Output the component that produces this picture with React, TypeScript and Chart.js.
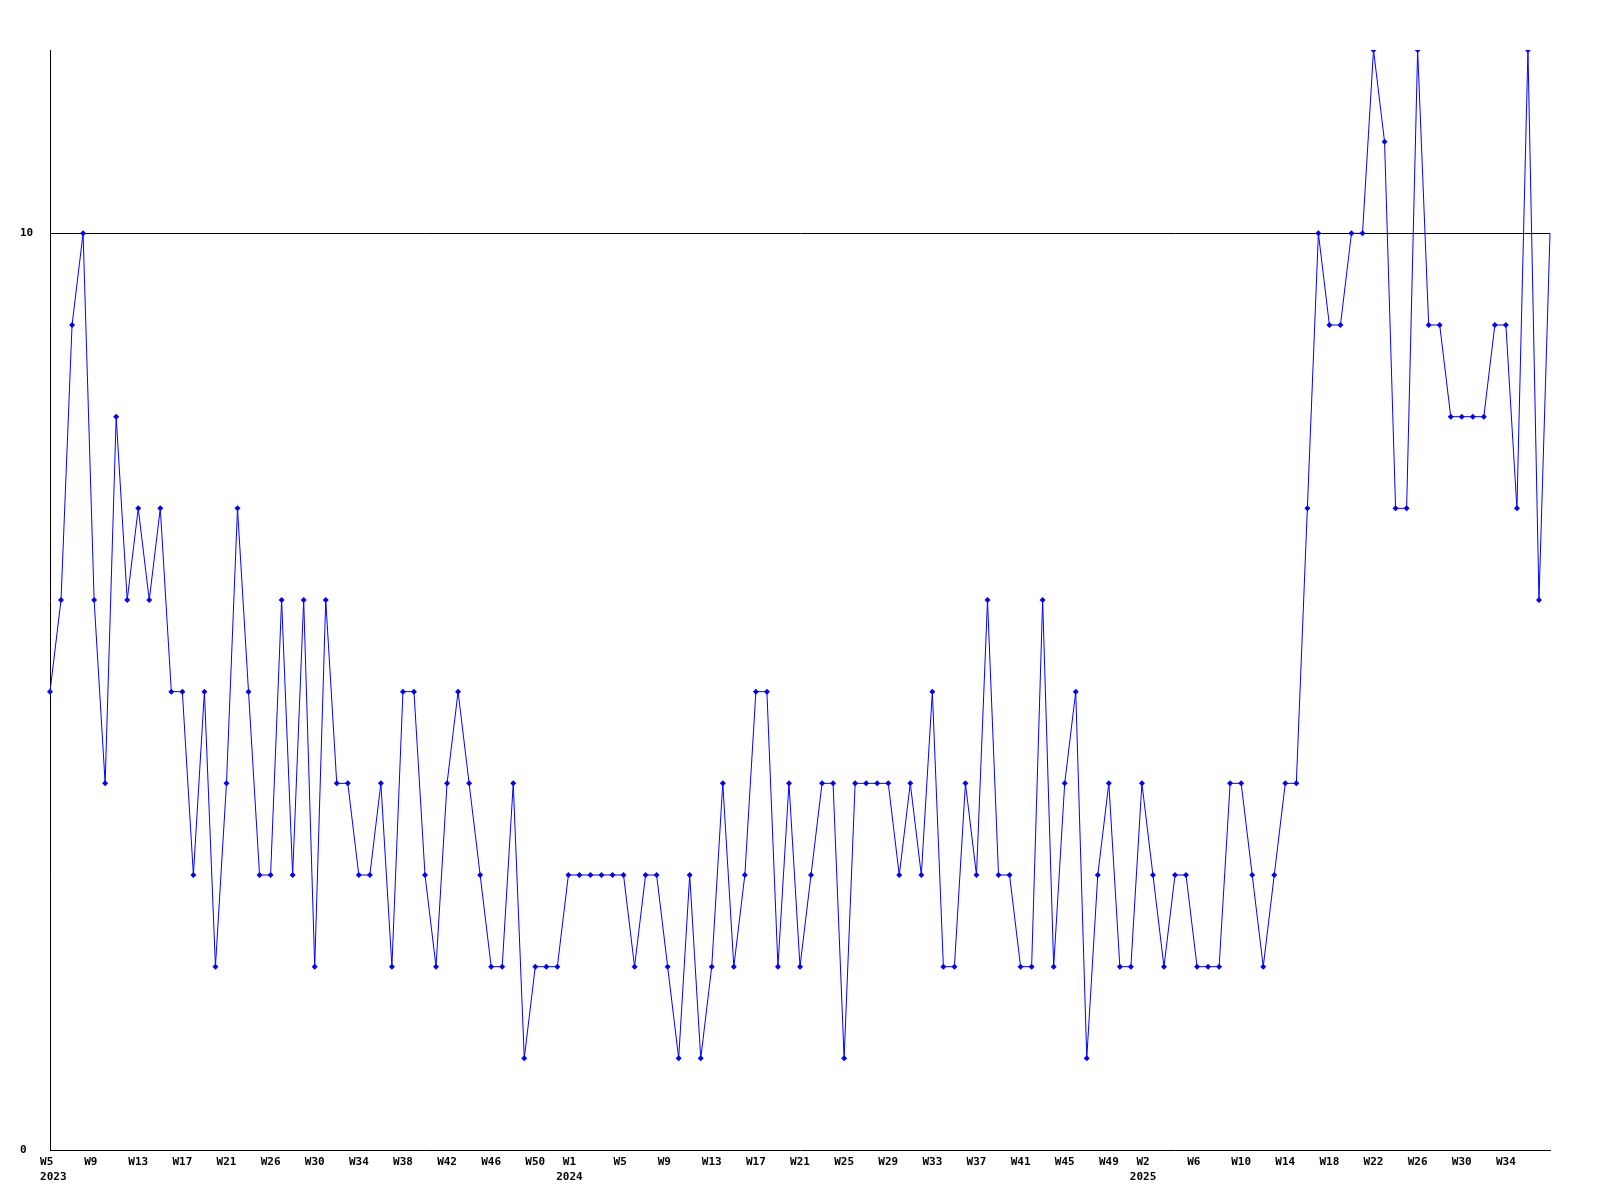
import React, { useEffect, useRef } from "react";
import { Chart, registerables } from "chart.js";

Chart.register(...registerables);

// Weekly values, one per point (W5 2023 … W38 2025)
const values2023: number[] = [
  5, 6, 9, 10, 6, 4, 8, 6, 7, 6, 7, 5, 5, 3, 5, 2, 4, 7, 5, 3, 3, 6, 3, 6, 2, 6, 4, 4, 3, 3, 4, 2, 5, 5, 3, 2,
  4, 5, 4, 3, 2, 2, 4, 1, 2, 2, 2, 3,
];
const values2024: number[] = [
  3, 3, 3, 3, 3, 2, 3, 3, 2, 1, 3, 1, 2, 4, 2, 3, 5, 5, 2, 4, 2, 3, 4, 4, 1, 4, 4, 4, 4, 3, 4, 3, 5, 2, 2, 4,
  3, 6, 3, 3, 2, 2, 6, 2, 4, 5, 1, 3, 4, 2, 2, 4,
];
const values2025: number[] = [
  3, 2, 3, 3, 2, 2, 2, 4, 4, 3, 2, 3, 4, 4, 7, 10, 9, 9, 10, 10, 12, 11, 7, 7, 12, 9, 9, 8, 8, 8, 8, 9, 9, 7,
  12, 6, 10,
];
const values: number[] = [...values2023, ...values2024, ...values2025];

// x tick labels, one every 4th point
const weekTicks: string[] = [
  "W5", "W9", "W13", "W17", "W21", "W26", "W30", "W34", "W38", "W42", "W46", "W50",
  "W1", "W5", "W9", "W13", "W17", "W21", "W25", "W29", "W33", "W37", "W41", "W45", "W49",
  "W2", "W6", "W10", "W14", "W18", "W22", "W26", "W30", "W34",
];
const yearTickIndex: number[] = [0, 12, 25];
const yearLabels: string[] = ["2023", "2024", "2025"];
const tickStep = 4;

// y tick labels
const yTicks: number[] = [0, 10];
const yMin = 0;
const yMax = 12;
const refLineValue = 10;

const labels: string[] = values.map((_, i) => String(i));

// Formats the tick text (monospace): single labels start ~10px left of the tick,
// two-line labels (week + year) are centred together slightly left of the tick.
function formatXTick(index: number): string | string[] {
  if (index % tickStep !== 0) return "";
  const k = index / tickStep;
  const w = weekTicks[k];
  if (w === undefined) return "";
  const y = yearTickIndex.indexOf(k);
  if (y < 0) return w.padEnd(3, " ");
  if (k === 0) return [" " + w.padEnd(4, " "), " " + yearLabels[y]];
  return [w + "   ", yearLabels[y] + "   "];
}

const FONT = { family: "'DejaVu Sans Mono', monospace", size: 11, weight: "bold" as const, lineHeight: "15px" };

export default function App() {
  const ref = useRef<HTMLCanvasElement | null>(null);

  useEffect(() => {
    if (!ref.current) return;
    const chart = new Chart(ref.current, {
      type: "line",
      data: {
        labels,
        datasets: [
          {
            data: values,
            borderColor: "#0000ff",
            backgroundColor: "#0000ff",
            borderWidth: 1,
            tension: 0,
            fill: false,
            pointStyle: "rectRot",
            pointRadius: (ctx: any) => (ctx.dataIndex === values.length - 1 ? 0 : 3),
            pointBorderWidth: 0,
            pointBackgroundColor: "#0000ff",
          },
        ],
      },
      options: {
        animation: false,
        responsive: false,
        devicePixelRatio: 1,
        layout: { padding: { left: 20, top: 50, right: 50, bottom: 0 } },
        plugins: { legend: { display: false }, tooltip: { enabled: false }, title: { display: false } },
        scales: {
          x: {
            type: "category",
            offset: false,
            grid: { display: false, drawTicks: false },
            border: { display: true, color: "#000000", width: 1 },
            ticks: {
              autoSkip: false,
              maxRotation: 0,
              minRotation: 0,
              align: "center",
              labelOffset: 0,
              padding: 5,
              color: "#000000",
              font: FONT,
              callback: (_value: any, index: number) => formatXTick(index),
            },
            afterFit: (scale: any) => {
              scale.height = 50;
            },
          },
          y: {
            type: "linear",
            min: yMin,
            max: yMax,
            grid: {
              display: true,
              drawTicks: false,
              color: (ctx: any) => (ctx.tick && ctx.tick.value === refLineValue ? "#000000" : "rgba(0,0,0,0)"),
              lineWidth: 1,
            },
            border: { display: true, color: "#000000", width: 1 },
            ticks: {
              crossAlign: "far",
              padding: 0,
              color: "#000000",
              font: FONT,
            },
            afterBuildTicks: (scale: any) => {
              scale.ticks = yTicks.map((v) => ({ value: v }));
            },
            afterFit: (scale: any) => {
              scale.width = 30;
            },
          },
        },
      },
    } as any);
    return () => chart.destroy();
  }, []);

  return (
    <div style={{ position: "absolute", left: 0, top: 0, width: 1600, height: 1200, background: "#ffffff" }}>
      <canvas ref={ref} width={1600} height={1200} style={{ width: 1600, height: 1200, display: "block" }} />
    </div>
  );
}
